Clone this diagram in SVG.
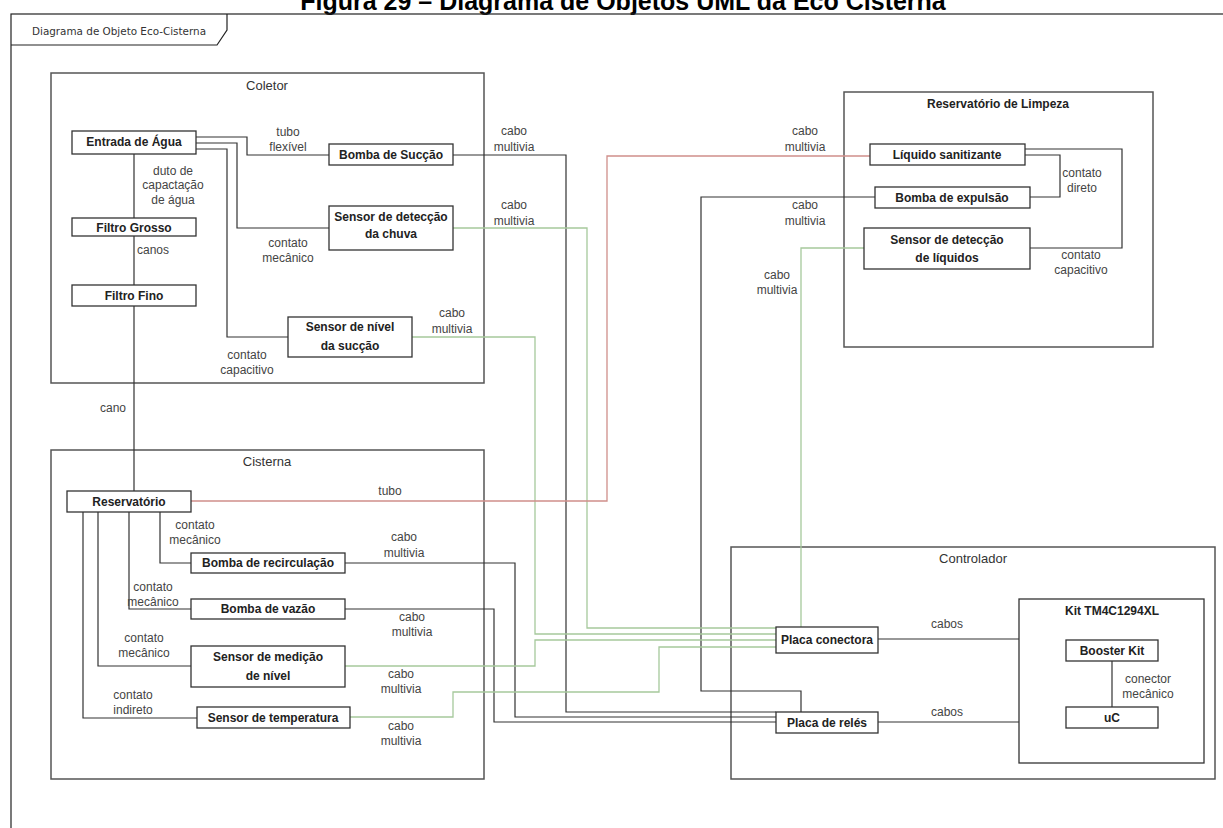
<svg xmlns="http://www.w3.org/2000/svg" width="1223" height="828" viewBox="0 0 1223 828">
  <defs>
    <style>
      .title { font-family: "Liberation Sans", Arial, sans-serif; font-size: 25px; font-weight: bold; fill: #000; }
      .frame { fill: none; stroke: #222; stroke-width: 1.2; }
      .tab { font-family: "DejaVu Sans", Verdana, sans-serif; font-size: 10.4px; fill: #333; }
      .cont { fill: #fff; stroke: #555; stroke-width: 1.5; }
      .cont-t { font-family: "Liberation Sans", Arial, sans-serif; font-size: 13px; fill: #333; text-anchor: middle; }
      .node { fill: #fff; stroke: #333; stroke-width: 1.3; }
      .node-t { font-family: "Liberation Sans", Arial, sans-serif; font-size: 12px; font-weight: bold; fill: #222; text-anchor: middle; }
      .lbl { font-family: "Liberation Sans", Arial, sans-serif; font-size: 12px; fill: #444; text-anchor: middle; }
      .w { fill: none; stroke: #333; stroke-width: 1.2; }
      .g { fill: none; stroke: #a6c99c; stroke-width: 1.3; }
      .r { fill: none; stroke: #cf8f8a; stroke-width: 1.3; }
    </style>
  </defs>

  <rect x="0" y="0" width="1223" height="828" fill="#fff"/>

  <!-- heading -->
  <text class="title" x="623" y="10" text-anchor="middle">Figura 29 – Diagrama de Objetos UML da Eco Cisterna</text>

  <!-- outer UML frame with name tab -->
  <g id="frame">
    <rect class="frame" x="11" y="14" width="1230" height="830"/>
    <path class="frame" d="M11,45 H217 L227,30 V14"/>
    <text class="tab" x="32" y="35">Diagrama de Objeto Eco-Cisterna</text>
  </g>

  <!-- containers -->
  <g id="coletor">
    <rect class="cont" x="51" y="73" width="433" height="310"/>
    <text class="cont-t" x="267" y="90">Coletor</text>
  </g>
  <g id="reservatorio-limpeza">
    <rect class="cont" x="844" y="92" width="309" height="255"/>
    <text class="cont-t" x="998" y="108" style="font-size:12px;font-weight:bold;fill:#222">Reservatório de Limpeza</text>
  </g>
  <g id="cisterna">
    <rect class="cont" x="51" y="450" width="433" height="329"/>
    <text class="cont-t" x="267" y="466">Cisterna</text>
  </g>
  <g id="controlador">
    <rect class="cont" x="731" y="547" width="484" height="232"/>
    <text class="cont-t" x="973" y="563">Controlador</text>
  </g>
  <g id="kit">
    <rect class="node" x="1019" y="599" width="185" height="164"/>
    <text class="node-t" x="1112" y="615">Kit TM4C1294XL</text>
  </g>

  <!-- connectors -->
  <g id="connectors">
    <!-- Coletor internal -->
    <path class="w" d="M134,154 V218 M134,236 V285 M134,306 V491"/>
    <path class="w" d="M196,137 H247 V155 H329"/>
    <path class="w" d="M196,143 H237 V228 H329"/>
    <path class="w" d="M196,149 H227 V337 H288"/>
    <!-- Reservatório de Limpeza internal -->
    <path class="w" d="M1025,149 H1122 V248 H1030"/>
    <path class="w" d="M1025,155 H1060 V197 H1030"/>
    <!-- Cisterna internal -->
    <path class="w" d="M160,512 V563 H191"/>
    <path class="w" d="M129,512 V609 H191"/>
    <path class="w" d="M98,512 V666 H191"/>
    <path class="w" d="M83,512 V718 H197"/>
    <!-- relay board wiring -->
    <path class="w" d="M453,155 H566 V712 H776"/>
    <path class="w" d="M345,563 H515 V717 H776"/>
    <path class="w" d="M345,609 H494 V722 H776"/>
    <path class="w" d="M875,197 H701 V691 H801 V712"/>
    <!-- connector board wiring -->
    <path class="g" d="M453,228 H587 V628 H776"/>
    <path class="g" d="M412,337 H535 V634 H776"/>
    <path class="g" d="M345,666 H535 V640 H776"/>
    <path class="g" d="M350,717 H453 V692 H659 V647 H776"/>
    <path class="g" d="M864,248 H801 V627"/>
    <!-- sanitizer tube -->
    <path class="r" d="M191,501 H607 V156 H870"/>
    <!-- controller -->
    <path class="w" d="M878,639 H1019"/>
    <path class="w" d="M878,722 H1019"/>
    <path class="w" d="M1112,661 V707"/>
  </g>

  <!-- connector labels -->
  <g id="labels">
    <text class="lbl" x="288" y="136">tubo</text>
    <text class="lbl" x="288" y="151">flexível</text>
    <text class="lbl" x="173" y="175">duto de</text>
    <text class="lbl" x="173" y="189">capactação</text>
    <text class="lbl" x="173" y="204">de água</text>
    <text class="lbl" x="153" y="254">canos</text>
    <text class="lbl" x="288" y="247">contato</text>
    <text class="lbl" x="288" y="262">mecânico</text>
    <text class="lbl" x="247" y="359">contato</text>
    <text class="lbl" x="247" y="374">capacitivo</text>

    <text class="lbl" x="514" y="135">cabo</text>
    <text class="lbl" x="514" y="151">multivia</text>
    <text class="lbl" x="514" y="209">cabo</text>
    <text class="lbl" x="514" y="225">multivia</text>
    <text class="lbl" x="452" y="317">cabo</text>
    <text class="lbl" x="452" y="333">multivia</text>
    <text class="lbl" x="805" y="135">cabo</text>
    <text class="lbl" x="805" y="151">multivia</text>
    <text class="lbl" x="805" y="209">cabo</text>
    <text class="lbl" x="805" y="225">multivia</text>
    <text class="lbl" x="777" y="279">cabo</text>
    <text class="lbl" x="777" y="294">multivia</text>

    <text class="lbl" x="1082" y="177">contato</text>
    <text class="lbl" x="1082" y="192">direto</text>
    <text class="lbl" x="1081" y="259">contato</text>
    <text class="lbl" x="1081" y="274">capacitivo</text>

    <text class="lbl" x="113" y="412">cano</text>
    <text class="lbl" x="390" y="495">tubo</text>

    <text class="lbl" x="195" y="529">contato</text>
    <text class="lbl" x="195" y="544">mecânico</text>
    <text class="lbl" x="404" y="541">cabo</text>
    <text class="lbl" x="404" y="557">multivia</text>
    <text class="lbl" x="153" y="591">contato</text>
    <text class="lbl" x="153" y="606">mecânico</text>
    <text class="lbl" x="412" y="621">cabo</text>
    <text class="lbl" x="412" y="636">multivia</text>
    <text class="lbl" x="144" y="642">contato</text>
    <text class="lbl" x="144" y="657">mecânico</text>
    <text class="lbl" x="401" y="678">cabo</text>
    <text class="lbl" x="401" y="693">multivia</text>
    <text class="lbl" x="133" y="699">contato</text>
    <text class="lbl" x="133" y="714">indireto</text>
    <text class="lbl" x="401" y="730">cabo</text>
    <text class="lbl" x="401" y="745">multivia</text>

    <text class="lbl" x="947" y="628">cabos</text>
    <text class="lbl" x="947" y="716">cabos</text>
    <text class="lbl" x="1148" y="683">conector</text>
    <text class="lbl" x="1148" y="698">mecânico</text>
  </g>

  <!-- objects -->
  <g id="entrada-agua">
    <rect class="node" x="72" y="131" width="124" height="23"/>
    <text class="node-t" x="134" y="146">Entrada de Água</text>
  </g>
  <g id="filtro-grosso">
    <rect class="node" x="72" y="218" width="124" height="18"/>
    <text class="node-t" x="134" y="232">Filtro Grosso</text>
  </g>
  <g id="filtro-fino">
    <rect class="node" x="72" y="285" width="124" height="21"/>
    <text class="node-t" x="134" y="300">Filtro Fino</text>
  </g>
  <g id="bomba-succao">
    <rect class="node" x="329" y="144" width="124" height="21"/>
    <text class="node-t" x="391" y="159">Bomba de Sucção</text>
  </g>
  <g id="sensor-chuva">
    <rect class="node" x="329" y="206" width="124" height="44"/>
    <text class="node-t" x="391" y="221">Sensor de detecção</text>
    <text class="node-t" x="391" y="238">da chuva</text>
  </g>
  <g id="sensor-nivel-succao">
    <rect class="node" x="288" y="317" width="124" height="40"/>
    <text class="node-t" x="350" y="331">Sensor de nível</text>
    <text class="node-t" x="350" y="350">da sucção</text>
  </g>

  <g id="liquido-sanitizante">
    <rect class="node" x="870" y="144" width="155" height="21"/>
    <text class="node-t" x="947" y="159">Líquido sanitizante</text>
  </g>
  <g id="bomba-expulsao">
    <rect class="node" x="875" y="187" width="155" height="21"/>
    <text class="node-t" x="952" y="202">Bomba de expulsão</text>
  </g>
  <g id="sensor-liquidos">
    <rect class="node" x="864" y="228" width="166" height="41"/>
    <text class="node-t" x="947" y="244">Sensor de detecção</text>
    <text class="node-t" x="947" y="262">de líquidos</text>
  </g>

  <g id="reservatorio">
    <rect class="node" x="67" y="491" width="124" height="21"/>
    <text class="node-t" x="129" y="506">Reservatório</text>
  </g>
  <g id="bomba-recirculacao">
    <rect class="node" x="191" y="553" width="154" height="20"/>
    <text class="node-t" x="268" y="567">Bomba de recirculação</text>
  </g>
  <g id="bomba-vazao">
    <rect class="node" x="191" y="599" width="154" height="20"/>
    <text class="node-t" x="268" y="613">Bomba de vazão</text>
  </g>
  <g id="sensor-medicao">
    <rect class="node" x="191" y="646" width="154" height="41"/>
    <text class="node-t" x="268" y="661">Sensor de medição</text>
    <text class="node-t" x="268" y="680">de nível</text>
  </g>
  <g id="sensor-temperatura">
    <rect class="node" x="197" y="707" width="153" height="21"/>
    <text class="node-t" x="273" y="722">Sensor de temperatura</text>
  </g>

  <g id="placa-conectora">
    <rect class="node" x="776" y="627" width="102" height="26"/>
    <text class="node-t" x="827" y="644">Placa conectora</text>
  </g>
  <g id="placa-reles">
    <rect class="node" x="776" y="712" width="102" height="21"/>
    <text class="node-t" x="827" y="727">Placa de relés</text>
  </g>
  <g id="booster-kit">
    <rect class="node" x="1066" y="640" width="92" height="21"/>
    <text class="node-t" x="1112" y="655">Booster Kit</text>
  </g>
  <g id="uc">
    <rect class="node" x="1066" y="707" width="92" height="21"/>
    <text class="node-t" x="1112" y="722">uC</text>
  </g>
</svg>
